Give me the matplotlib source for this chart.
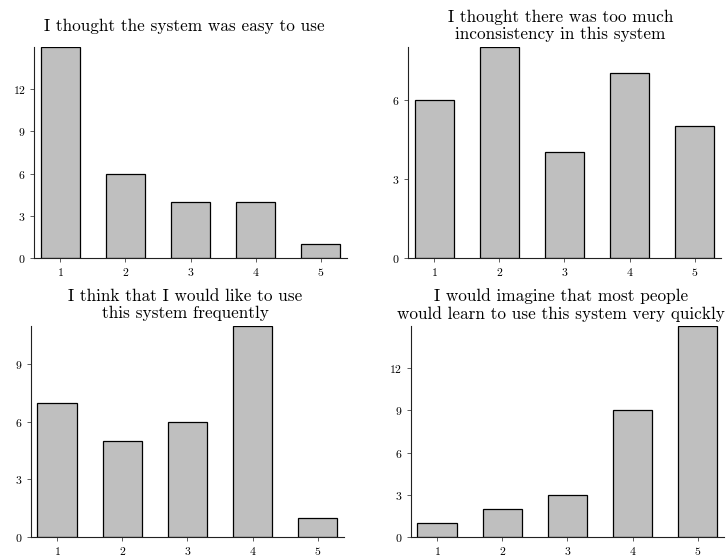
import matplotlib
matplotlib.use("Agg")
import numpy as np
from matplotlib import pyplot as plt

plt.rcParams['font.family'] = 'cmr10'
plt.rcParams['axes.formatter.use_mathtext'] = True

ratings = [1, 2, 3, 4, 5]

titles = [
    "I thought the system was easy to use",
    "I thought there was too much\ninconsistency in this system",
    "I think that I would like to use\nthis system frequently",
    "I would imagine that most people\nwould learn to use this system very quickly",
]

easy_to_use = [15, 6, 4, 4, 1]
inconsistency = [6, 8, 4, 7, 5]
use_frequently = [7, 5, 6, 11, 1]
learn_quickly = [1, 2, 3, 9, 15]

counts = [easy_to_use, inconsistency, use_frequently, learn_quickly]

# axes boxes [left, bottom, width, height] in figure fraction
boxes = [
    [0.0468, 0.536, 0.4305, 0.3795],
    [0.5612, 0.536, 0.4305, 0.3795],
    [0.0426, 0.0342, 0.4305, 0.3795],
    [0.5653, 0.0342, 0.4305, 0.3795],
]
# titles sit a bit left of the axes centre
title_x = [0.481, 0.487, 0.492, 0.478]

fig = plt.figure(figsize=(7.27, 5.56), dpi=100)

for title, values, box, tx in zip(titles, counts, boxes, title_x):
    ax = fig.add_axes(box)
    ax.bar(ratings, values, width=0.6, color='#bfbfbf', edgecolor='black', linewidth=0.9)
    ax.set_xlim(0.6, 5.4)
    ax.set_ylim(0, max(values))
    ax.set_xticks(ratings)
    ax.set_yticks(np.arange(0, max(values), 3))
    ax.spines['top'].set_visible(False)
    ax.spines['right'].set_visible(False)
    for side in ['left', 'bottom']:
        ax.spines[side].set_linewidth(0.8)
        ax.spines[side].set_color('#222222')
    ax.tick_params(labelsize=8.5, length=3, width=0.6, color='#444444', pad=3)
    ax.set_title(title, fontsize=12.4, x=tx, y=1.10, va='center', pad=0, linespacing=1.15)

fig.savefig("out.png", dpi=100)
